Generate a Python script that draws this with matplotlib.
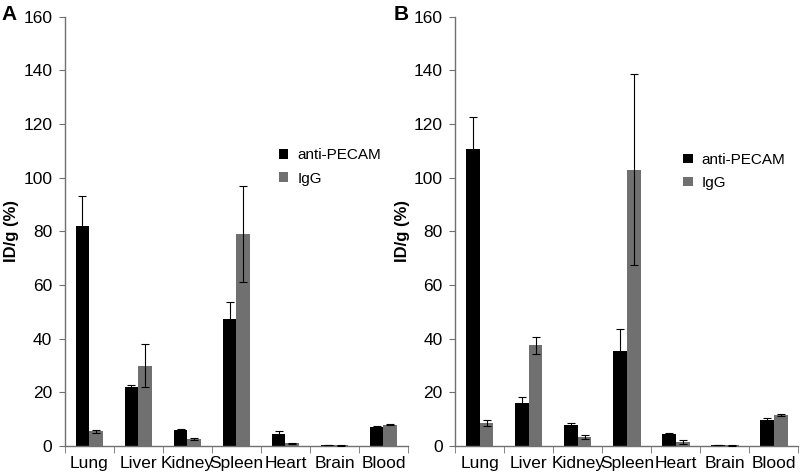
import numpy as np
import matplotlib.pyplot as plt

plt.rcParams['font.family'] = ['Liberation Sans', 'DejaVu Sans']

organs = ['Lung', 'Liver', 'Kidney', 'Spleen', 'Heart', 'Brain', 'Blood']

# panel A
a_pecam = [82, 22, 6.0, 47.5, 4.3, 0.4, 7.2]
a_pecam_err = [11, 0.7, 0.3, 6, 1.2, 0.1, 0.4]
a_igg = [5.5, 30, 2.5, 79, 1.0, 0.2, 8.0]
a_igg_err = [0.6, 8, 0.3, 18, 0.3, 0.1, 0.3]

# panel B
b_pecam = [110.5, 16, 7.8, 35.5, 4.3, 0.4, 9.8]
b_pecam_err = [12, 2.3, 0.8, 8, 0.6, 0.1, 0.6]
b_igg = [8.5, 37.5, 3.3, 103, 1.5, 0.2, 11.5]
b_igg_err = [1.2, 3.3, 0.8, 35.5, 0.8, 0.1, 0.3]

fig = plt.figure(figsize=(8, 4.76), dpi=100)
ax1 = fig.add_axes([0.081, 0.063, 0.429, 0.902])
ax2 = fig.add_axes([0.569, 0.063, 0.429, 0.902])

x = np.arange(len(organs))
w = 0.28
gray = '#707070'
spine = '#707070'

def draw(ax, p, pe, g, ge, leg_xy):
    ax.bar(x - w/2, p, w, color='black', label='anti-PECAM', zorder=2)
    ax.bar(x + w/2, g, w, color=gray, label='IgG', zorder=2)
    ax.errorbar(x - w/2, p, yerr=pe, fmt='none', ecolor='black', elinewidth=0.8, capsize=3, capthick=0.8, zorder=3)
    ax.errorbar(x + w/2, g, yerr=ge, fmt='none', ecolor='black', elinewidth=0.8, capsize=3, capthick=0.8, zorder=3)
    ax.set_xlim(-0.5, 6.5)
    ax.set_ylim(0, 160)
    ax.set_yticks(range(0, 161, 20))
    ax.set_xticks(x)
    ax.set_xticklabels(organs, fontsize=12.5)
    ax.set_xticks(np.arange(-0.5, 7, 1), minor=True)
    ax.tick_params(axis='x', which='major', length=0, pad=7)
    ax.tick_params(axis='x', which='minor', length=5, direction='out', color=spine)
    ax.tick_params(axis='y', length=4, direction='out', color=spine, labelsize=12.5, pad=5)
    for s in ['top', 'right']:
        ax.spines[s].set_visible(False)
    for s in ['left', 'bottom']:
        ax.spines[s].set_color(spine)
        ax.spines[s].set_linewidth(1)
    ax.set_ylabel('ID/g (%)', fontsize=12, fontweight='bold', labelpad=3)
    ax.legend(loc='upper left', bbox_to_anchor=leg_xy, frameon=False, fontsize=11,
              handlelength=0.6, handleheight=0.6, handletextpad=0.6, labelspacing=0.6)

draw(ax1, a_pecam, a_pecam_err, a_igg, a_igg_err, (0.585, 0.725))
draw(ax2, b_pecam, b_pecam_err, b_igg, b_igg_err, (0.625, 0.715))

fig.text(0.002, 0.99, 'A', fontsize=15, fontweight='bold', va='top')
fig.text(0.492, 0.99, 'B', fontsize=15, fontweight='bold', va='top')

plt.savefig('out.png', dpi=100)
